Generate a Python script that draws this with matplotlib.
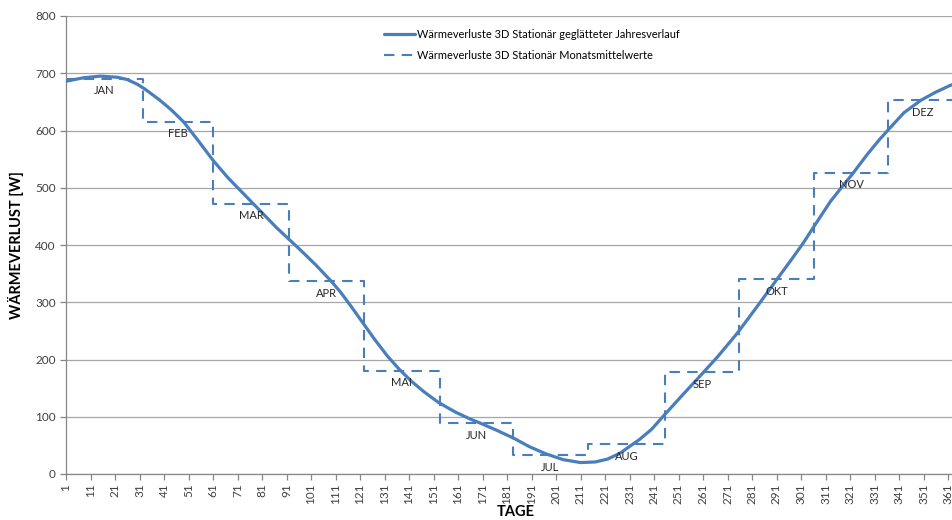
import matplotlib.pyplot as plt
import numpy as np

plt.rcParams['font.family'] = ['Lato', 'DejaVu Sans']

# smoothed annual curve
curve_days = [1, 8, 15, 22, 26, 30, 33, 39, 44, 49, 55, 61, 67, 72, 77, 82, 87, 92,
              97, 103, 109, 113, 117, 122, 127, 132, 137, 142, 147, 153, 160, 166,
              170, 177, 184, 190, 197, 204, 211, 217, 222, 227, 231, 235, 240, 245,
              252, 260, 267, 275, 283, 291, 297, 302, 307, 313, 318, 322, 328, 333,
              337, 343, 350, 356, 362, 365]
curve_vals = [686, 692, 695, 693, 689, 681, 673, 654, 636, 615, 582, 548, 518, 496,
              474, 452, 430, 410, 390, 365, 338, 318, 295, 265, 235, 207, 183, 162,
              144, 125, 108, 96, 89, 76, 62, 48, 35, 25, 20, 21, 26, 36, 48, 60, 78,
              102, 135, 172, 205, 246, 292, 339, 374, 404, 437, 476, 503, 524, 558,
              584, 603, 631, 653, 667, 679, 683]

# monthly means
months = ['JAN', 'FEB', 'MAR', 'APR', 'MAI', 'JUN', 'JUL', 'AUG', 'SEP', 'OKT', 'NOV', 'DEZ']
month_vals = [690, 615, 472, 337, 180, 89, 33, 52, 178, 340, 526, 653]
month_edges = [1, 32.5, 61, 92, 122.5, 153.5, 183.5, 214, 245.5, 275.5, 306.5, 336.5, 365]

blue = '#4a7ebb'

fig = plt.figure(figsize=(9.52, 5.2), dpi=100)
ax = fig.add_axes([66 / 952, 46 / 520, (957.8 - 66) / 952, 458 / 520])

ax.plot(curve_days, curve_vals, color=blue, lw=2.3, solid_capstyle='round',
        solid_joinstyle='round',
        label='Wärmeverluste 3D Stationär geglätteter Jahresverlauf', zorder=3)

step_x = []
step_y = []
for i, v in enumerate(month_vals):
    step_x += [month_edges[i], month_edges[i + 1]]
    step_y += [v, v]
ax.plot(step_x, step_y, color=blue, lw=1.5, dashes=(5, 3.5),
        label='Wärmeverluste 3D Stationär Monatsmittelwerte', zorder=2)

for i, m in enumerate(months):
    mid = (month_edges[i] + month_edges[i + 1]) / 2
    ax.annotate(m, xy=(mid, month_vals[i]), xytext=(0, -12), textcoords='offset pixels',
                ha='center', va='center', fontsize=8, color='#262626')

ax.set_xlim(1, 365)
ax.set_ylim(0, 800)
ax.set_xticks(np.arange(1, 362, 10))
ax.set_xticklabels([str(d) for d in range(1, 362, 10)], rotation=90, fontsize=8.5,
                   color='#404040')
ax.set_yticks(np.arange(0, 801, 100))
ax.set_yticklabels([str(v) for v in range(0, 801, 100)], fontsize=8.5, color='#404040')
ax.grid(axis='y', color='#a6a6a6', lw=0.9)
ax.set_axisbelow(True)
for s in ['top', 'right']:
    ax.spines[s].set_visible(False)
for s in ['left', 'bottom']:
    ax.spines[s].set_color('#868686')
    ax.spines[s].set_linewidth(0.9)
ax.tick_params(axis='both', color='#868686', length=4, width=0.9)
ax.tick_params(axis='x', pad=3)

ax.set_ylabel('WÄRMEVERLUST [W]', fontsize=10.5, fontweight='bold', labelpad=8)
ax.set_xlabel('TAGE', fontsize=10.5, fontweight='bold')
ax.xaxis.label.set_va('center')
ax.xaxis.set_label_coords((516 - 66) / (957.8 - 66), -(512 - 474) / 458)

ax.legend(loc='upper left', bbox_to_anchor=((374 - 66) / (957.8 - 66), 0.993), frameon=False,
          fontsize=7.9, handlelength=2.8, handletextpad=0.2, labelspacing=0.9)

fig.savefig('out.png', dpi=100)
